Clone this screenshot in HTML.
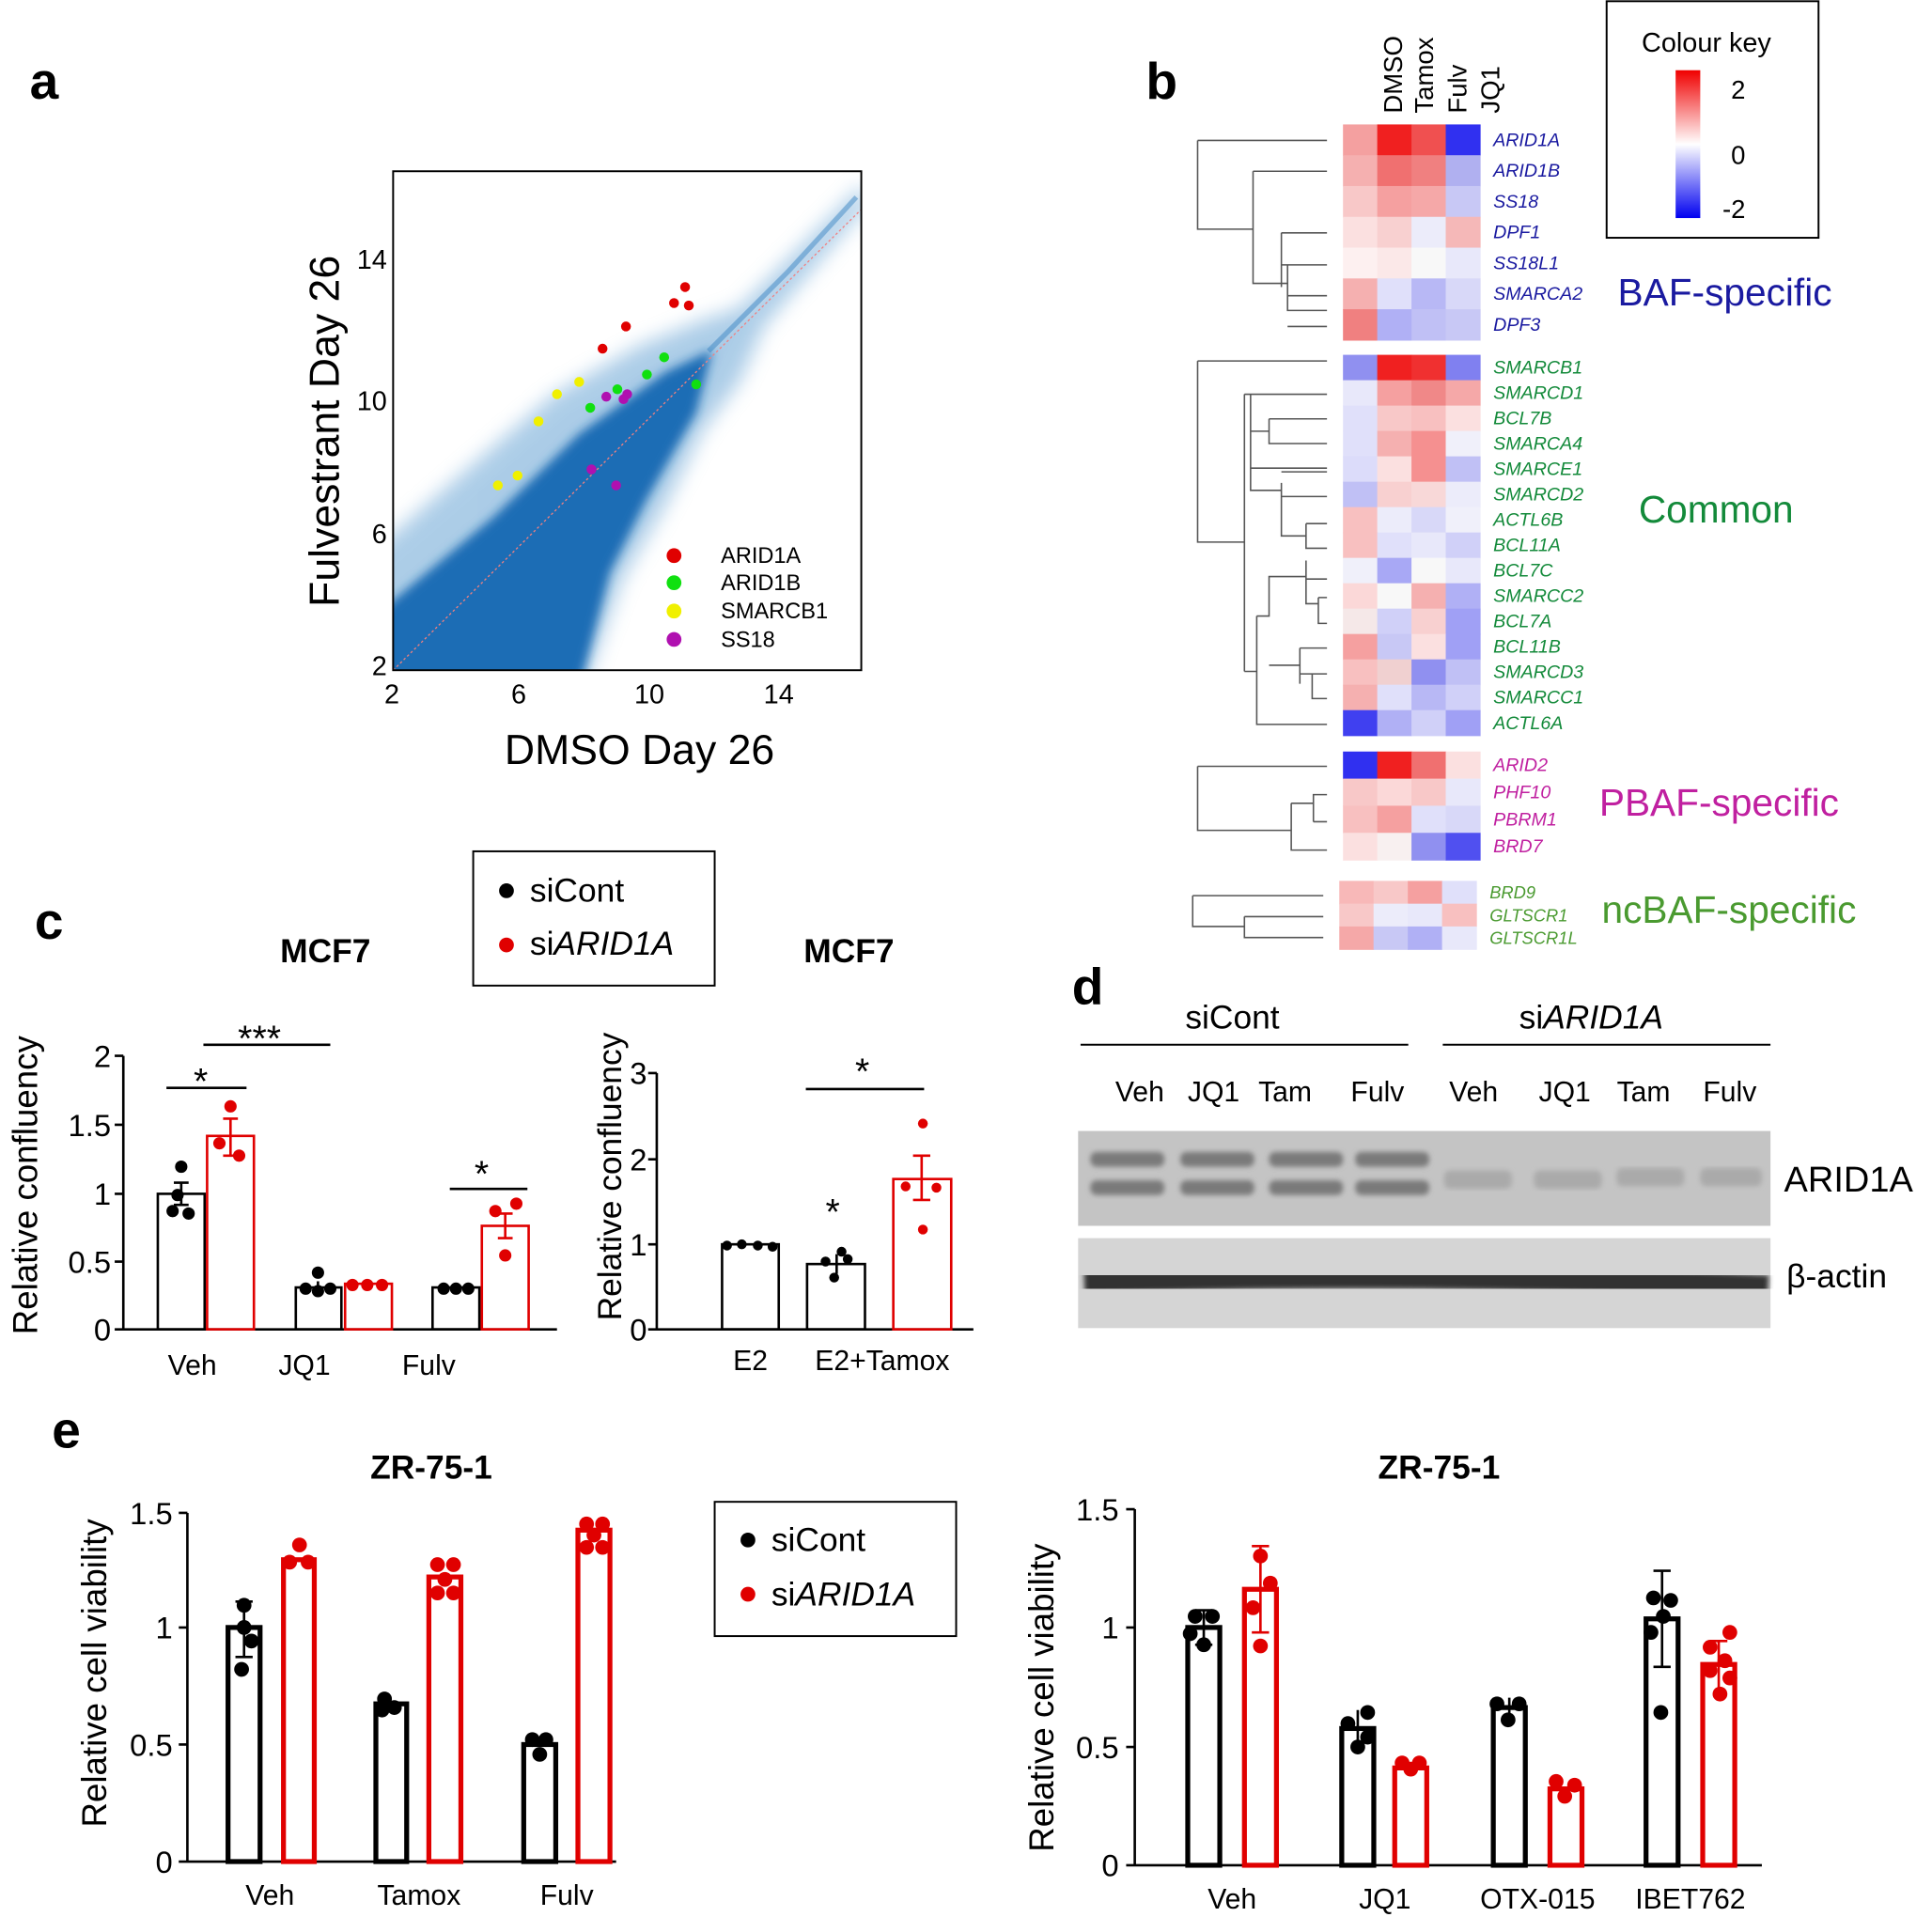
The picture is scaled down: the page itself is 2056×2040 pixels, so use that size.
<!DOCTYPE html>
<html><head><meta charset="utf-8"><style>
html,body{margin:0;padding:0;background:#fff}
svg{display:block}
text{font-family:"Liberation Sans",Arial,sans-serif}
</style></head><body>
<svg width="2056" height="2040" viewBox="0 0 1568 1556" xmlns="http://www.w3.org/2000/svg">
<defs>
<filter id="bl" x="-30%" y="-30%" width="160%" height="160%"><feGaussianBlur stdDeviation="8"/></filter>
<filter id="bl3" x="-30%" y="-30%" width="160%" height="160%"><feGaussianBlur stdDeviation="4"/></filter>
<filter id="bl2"><feGaussianBlur stdDeviation="2"/></filter>
<linearGradient id="ck" x1="0" y1="0" x2="0" y2="1"><stop offset="0" stop-color="#f00000"/><stop offset="0.5" stop-color="#ffffff"/><stop offset="1" stop-color="#0000f0"/></linearGradient>
<clipPath id="sc"><rect x="319" y="139" width="380" height="405"/></clipPath>
</defs>
<rect width="1568" height="1556" fill="#fff"/>
<g font-weight="bold" font-size="42">
<text x="24" y="80">a</text><text x="930" y="80">b</text><text x="28" y="762">c</text><text x="870" y="815">d</text><text x="42" y="1175">e</text></g>

<!-- PANEL A -->
<g clip-path="url(#sc)">
<path d="M300,450 L380,380 L450,320 L520,280 L570,260 L600,250 L700,150 L705,165 L620,265 L600,310 L570,350 L540,410 L505,470 L480,540 L470,570 L300,570Z" fill="#5a9bd0" opacity="0.5" filter="url(#bl)"/>
<path d="M310,495 L400,420 L470,352 L540,302 L578,284 L565,335 L525,405 L495,465 L470,560 L310,560Z" fill="#1a6db5" filter="url(#bl3)"/>
<path d="M575,285 L640,220 L695,160" stroke="#3c86c4" stroke-width="4" fill="none" opacity="0.5"/>
<line x1="319" y1="544" x2="699" y2="170" stroke="#f08080" stroke-width="1" stroke-dasharray="2,2"/>
</g>
<rect x="319" y="139" width="380" height="405" fill="none" stroke="#000" stroke-width="1.5"/>
<g fill="#e00000"><circle cx="556" cy="233" r="4"/><circle cx="547" cy="246" r="4"/><circle cx="559" cy="248" r="4"/><circle cx="508" cy="265" r="4"/><circle cx="489" cy="283" r="4"/></g>
<g fill="#10e010"><circle cx="539" cy="290" r="4"/><circle cx="525" cy="304" r="4"/><circle cx="565" cy="312" r="4"/><circle cx="501" cy="316" r="4"/><circle cx="479" cy="331" r="4"/></g>
<g fill="#f0f000"><circle cx="470" cy="310" r="4"/><circle cx="452" cy="320" r="4"/><circle cx="437" cy="342" r="4"/><circle cx="420" cy="386" r="4"/><circle cx="404" cy="394" r="4"/></g>
<g fill="#b010b0"><circle cx="509" cy="320" r="4"/><circle cx="492" cy="322" r="4"/><circle cx="506" cy="324" r="4"/><circle cx="480" cy="381" r="4"/><circle cx="500" cy="394" r="4"/></g>
<circle cx="547" cy="451" r="6" fill="#e00000"/><circle cx="547" cy="473" r="6" fill="#10e010"/><circle cx="547" cy="496" r="6" fill="#f0f000"/><circle cx="547" cy="519" r="6" fill="#b010b0"/>
<g font-size="18"><text x="585" y="457">ARID1A</text><text x="585" y="479">ARID1B</text><text x="585" y="502">SMARCB1</text><text x="585" y="525">SS18</text></g>
<g font-size="22" text-anchor="end"><text x="314" y="218">14</text><text x="314" y="333">10</text><text x="314" y="441">6</text><text x="314" y="548">2</text></g>
<g font-size="22" text-anchor="middle"><text x="318" y="571">2</text><text x="421" y="571">6</text><text x="527" y="571">10</text><text x="632" y="571">14</text></g>
<text x="519" y="620" font-size="34" text-anchor="middle">DMSO Day 26</text>
<text transform="translate(275,350) rotate(-90)" font-size="34" text-anchor="middle">Fulvestrant Day 26</text>

<!-- PANEL B heatmap -->
<g font-size="21"><text transform="translate(1138,92) rotate(-90)">DMSO</text><text transform="translate(1163,92) rotate(-90)">Tamox</text><text transform="translate(1190,92) rotate(-90)">Fulv</text><text transform="translate(1217,92) rotate(-90)">JQ1</text></g>
<rect x="1304" y="1" width="172" height="192" fill="none" stroke="#000" stroke-width="1.5"/>
<text x="1385" y="42" font-size="22" text-anchor="middle">Colour key</text>
<rect x="1360" y="57" width="20" height="120" fill="url(#ck)"/>
<g font-size="21"><text x="1405" y="80">2</text><text x="1405" y="133">0</text><text x="1398" y="177">-2</text></g>
<g id="hm"></g>
<g font-size="15" font-style="italic" id="lbl"></g>
<g font-size="31"><text x="1313" y="248" fill="#1a1aa0">BAF-specific</text><text x="1330" y="424" fill="#138a3a">Common</text><text x="1298" y="662" fill="#c020a0">PBAF-specific</text><text x="1300" y="749" fill="#4a9a30">ncBAF-specific</text></g>
<g stroke="#555" stroke-width="1.2" fill="none">
<path d="M972,114 H1077 M972,114 V186 H1017 M1017,139 V230 H1040 M1017,139 H1077 M1040,189 V233 M1040,189 H1077 M1040,215 H1045 V252 H1077 M1045,215 H1077 M1045,240 H1077 M1045,265 H1077 M1040,230 H1045"/>
<path d="M972,293 H1077 M972,293 V440 H1010 M1010,320 V545 M1010,320 H1015 V380 H1077 M1015,320 H1077 M1030,340 H1077 M1030,340 V360 H1077 M1030,350 H1015 M1015,380 V398 H1040 M1040,383 H1077 M1040,403 H1077 M1010,545 H1020 V588 H1077 M1020,500 V560 M1020,500 H1030 V468 H1060 M1030,540 H1055 M1055,526 V555 M1055,526 H1077 M1055,547 H1065 V567 H1077 M1065,547 H1077 M1060,455 V490 H1070 M1060,470 H1077 M1070,485 V506 H1077 M1070,485 H1077 M1060,425 V445 H1077 M1060,425 H1077 M1040,392 V435 H1060"/>
<path d="M972,622 H1077 M972,622 V674 H1048 M1048,652 V690 H1077 M1048,652 H1066 V645 H1077 M1066,667 H1077 M1066,645 V667"/>
<path d="M968,727 H1074 M968,727 V752 H1010 M1010,744 V761 H1074 M1010,744 H1074"/>
</g>

<!-- PANEL C left -->
<text x="264" y="781" font-size="27" font-weight="bold" text-anchor="middle">MCF7</text>
<text x="689" y="781" font-size="27" font-weight="bold" text-anchor="middle">MCF7</text>
<rect x="384" y="691" width="196" height="109" fill="none" stroke="#000" stroke-width="1.5"/>
<circle cx="411" cy="723" r="6"/><circle cx="411" cy="767" r="6" fill="#e00000"/>
<text x="430" y="732" font-size="27">siCont</text><text x="430" y="775" font-size="27">si<tspan font-style="italic">ARID1A</tspan></text>
<g stroke="#000" stroke-width="2" fill="none">
<path d="M100,857 V1079 H452 M93,857 H100 M93,913 H100 M93,969 H100 M93,1024 H100 M93,1079 H100"/>
<rect x="128" y="969" width="38" height="110"/><rect x="240" y="1045" width="37" height="34"/><rect x="351" y="1045" width="38" height="34"/>
<path d="M135,883 H200 M165,848 H268 M365,965 H428"/>
<path d="M147,960 V978 M141,960 H153 M141,978 H153 M258,1040 V1050 M370,1042 V1048"/>
</g>
<g stroke="#e00000" stroke-width="2" fill="none"><rect x="168" y="922" width="38" height="157"/><rect x="280" y="1042" width="38" height="37"/><rect x="391" y="995" width="38" height="84"/>
<path d="M187,908 V938 M181,908 H193 M181,938 H193 M410,985 V1005 M404,985 H416 M404,1005 H416"/></g>
<g><circle cx="147" cy="947" r="5"/><circle cx="140" cy="983" r="5"/><circle cx="153" cy="985" r="5"/><circle cx="144" cy="970" r="5"/>
<circle cx="258" cy="1033" r="5"/><circle cx="248" cy="1046" r="5"/><circle cx="268" cy="1046" r="5"/><circle cx="258" cy="1048" r="5"/>
<circle cx="360" cy="1046" r="5"/><circle cx="370" cy="1046" r="5"/><circle cx="380" cy="1046" r="5"/></g>
<g fill="#e00000"><circle cx="187" cy="898" r="5"/><circle cx="178" cy="928" r="5"/><circle cx="194" cy="938" r="5"/>
<circle cx="286" cy="1043" r="5"/><circle cx="298" cy="1043" r="5"/><circle cx="310" cy="1043" r="5"/>
<circle cx="419" cy="977" r="5"/><circle cx="402" cy="983" r="5"/><circle cx="410" cy="1019" r="5"/></g>
<g font-size="30"><text x="157" y="888">*</text><text x="193" y="853">***</text><text x="385" y="963">*</text><text x="694" y="880">*</text><text x="670" y="994">*</text></g>
<g font-size="25" text-anchor="end"><text x="90" y="1088">0</text><text x="90" y="1033">0.5</text><text x="90" y="978">1</text><text x="90" y="922">1.5</text><text x="90" y="866">2</text></g>
<g font-size="23" text-anchor="middle"><text x="156" y="1116">Veh</text><text x="247" y="1116">JQ1</text><text x="348" y="1116">Fulv</text></g>
<text transform="translate(30,962) rotate(-90)" font-size="28" text-anchor="middle">Relative confluency</text>

<!-- PANEL C right -->
<g stroke="#000" stroke-width="2" fill="none">
<path d="M533,871 V1079 H790 M526,871 H533 M526,941 H533 M526,1010 H533 M526,1079 H533"/>
<rect x="586" y="1010" width="46" height="69"/><rect x="655" y="1026" width="47" height="53"/>
<path d="M654,884 H750 M679,1018 V1034"/></g>
<g stroke="#e00000" stroke-width="2" fill="none"><rect x="725" y="957" width="47" height="122"/><path d="M748,938 V974 M741,938 H755 M741,974 H755"/></g>
<g><circle cx="590" cy="1011" r="4"/><circle cx="602" cy="1010" r="4"/><circle cx="615" cy="1011" r="4"/><circle cx="627" cy="1012" r="4"/>
<circle cx="670" cy="1024" r="4"/><circle cx="683" cy="1016" r="4"/><circle cx="677" cy="1037" r="4"/><circle cx="688" cy="1022" r="4"/></g>
<g fill="#e00000"><circle cx="749" cy="912" r="4"/><circle cx="735" cy="963" r="4"/><circle cx="760" cy="964" r="4"/><circle cx="749" cy="998" r="4"/></g>
<g font-size="25" text-anchor="end"><text x="525" y="1088">0</text><text x="525" y="1019">1</text><text x="525" y="950">2</text><text x="525" y="880">3</text></g>
<g font-size="23" text-anchor="middle"><text x="609" y="1112">E2</text><text x="716" y="1112">E2+Tamox</text></g>
<text transform="translate(504,955) rotate(-90)" font-size="27" text-anchor="middle">Relative confluency</text>

<!-- PANEL D -->
<g font-size="27"><text x="962" y="835">siCont</text><text x="1233" y="835">si<tspan font-style="italic">ARID1A</tspan></text></g>
<g stroke="#000" stroke-width="1.5"><line x1="877" y1="848" x2="1143" y2="848"/><line x1="1171" y1="848" x2="1437" y2="848"/></g>
<g font-size="23" text-anchor="middle"><text x="925" y="894">Veh</text><text x="985" y="894">JQ1</text><text x="1043" y="894">Tam</text><text x="1118" y="894">Fulv</text><text x="1196" y="894">Veh</text><text x="1270" y="894">JQ1</text><text x="1334" y="894">Tam</text><text x="1404" y="894">Fulv</text></g>
<rect x="875" y="918" width="562" height="77" fill="#c4c4c4"/>
<g fill="#7a7a7a" filter="url(#bl2)"><rect x="885" y="935" width="60" height="12" rx="5"/><rect x="885" y="958" width="60" height="12" rx="5"/><rect x="958" y="935" width="60" height="12" rx="5"/><rect x="958" y="958" width="60" height="12" rx="5"/><rect x="1030" y="935" width="60" height="12" rx="5"/><rect x="1030" y="958" width="60" height="12" rx="5"/><rect x="1100" y="935" width="60" height="12" rx="5"/><rect x="1100" y="958" width="60" height="12" rx="5"/></g>
<g fill="#aaa" filter="url(#bl2)"><rect x="1172" y="950" width="55" height="15" rx="5"/><rect x="1245" y="950" width="55" height="15" rx="5"/><rect x="1312" y="948" width="55" height="15" rx="5"/><rect x="1380" y="948" width="50" height="15" rx="5"/></g>
<rect x="875" y="1005" width="562" height="73" fill="#d5d5d5"/>
<path d="M880,1040 Q1150,1030 1435,1045" stroke="#333" stroke-width="20" fill="none" filter="url(#bl2)"/>
<text x="1448" y="967" font-size="29">ARID1A</text><text x="1450" y="1045" font-size="27">β-actin</text>

<!-- PANEL E left -->
<text x="350" y="1200" font-size="27" font-weight="bold" text-anchor="middle">ZR-75-1</text>
<text x="1168" y="1200" font-size="27" font-weight="bold" text-anchor="middle">ZR-75-1</text>
<rect x="580" y="1219" width="196" height="109" fill="none" stroke="#000" stroke-width="1.5"/>
<circle cx="607" cy="1250" r="6"/><circle cx="607" cy="1294" r="6" fill="#e00000"/>
<text x="626" y="1259" font-size="27">siCont</text><text x="626" y="1303" font-size="27">si<tspan font-style="italic">ARID1A</tspan></text>
<g stroke="#000" stroke-width="4" fill="none">
<path d="M152,1228 V1511 H500 M145,1228 H152 M145,1321 H152 M145,1416 H152 M145,1511 H152" stroke-width="2"/>
<rect x="185" y="1321" width="26" height="190"/><rect x="305" y="1383" width="25" height="128"/><rect x="425" y="1416" width="26" height="95"/>
<path d="M198,1300 V1345 M191,1300 H205 M191,1345 H205" stroke-width="2"/></g>
<g stroke="#e00000" stroke-width="4" fill="none"><rect x="230" y="1266" width="25" height="245"/><rect x="348" y="1280" width="26" height="231"/><rect x="469" y="1242" width="26" height="269"/></g>
<g><circle cx="198" cy="1303" r="6"/><circle cx="204" cy="1332" r="6"/><circle cx="196" cy="1355" r="6"/><circle cx="198" cy="1321" r="6"/>
<circle cx="312" cy="1379" r="6"/><circle cx="320" cy="1386" r="6"/><circle cx="310" cy="1388" r="6"/>
<circle cx="432" cy="1412" r="6"/><circle cx="443" cy="1412" r="6"/><circle cx="438" cy="1424" r="6"/></g>
<g fill="#e00000"><circle cx="243" cy="1254" r="6"/><circle cx="235" cy="1268" r="6"/><circle cx="250" cy="1268" r="6"/>
<circle cx="355" cy="1270" r="6"/><circle cx="368" cy="1270" r="6"/><circle cx="355" cy="1293" r="6"/><circle cx="368" cy="1293" r="6"/><circle cx="361" cy="1282" r="6"/>
<circle cx="476" cy="1237" r="6"/><circle cx="489" cy="1237" r="6"/><circle cx="476" cy="1256" r="6"/><circle cx="489" cy="1256" r="6"/><circle cx="482" cy="1246" r="6"/></g>
<g font-size="25" text-anchor="end"><text x="140" y="1520">0</text><text x="140" y="1425">0.5</text><text x="140" y="1330">1</text><text x="140" y="1237">1.5</text></g>
<g font-size="23" text-anchor="middle"><text x="219" y="1546">Veh</text><text x="340" y="1546">Tamox</text><text x="460" y="1546">Fulv</text></g>
<text transform="translate(86,1358) rotate(-90)" font-size="28" text-anchor="middle">Relative cell viability</text>

<!-- PANEL E right -->
<g stroke="#000" stroke-width="4" fill="none">
<path d="M921,1225 V1514 H1430 M914,1225 H921 M914,1321 H921 M914,1418 H921 M914,1514 H921" stroke-width="2"/>
<rect x="964" y="1321" width="26" height="193"/><rect x="1089" y="1403" width="26" height="111"/><rect x="1212" y="1386" width="26" height="128"/><rect x="1336" y="1314" width="26" height="200"/>
<path d="M977,1307 V1335 M970,1307 H984 M970,1335 H984 M1102,1388 V1420 M1225,1378 V1395 M1349,1275 V1353 M1342,1275 H1356 M1342,1353 H1356" stroke-width="2"/></g>
<g stroke="#e00000" stroke-width="4" fill="none"><rect x="1010" y="1290" width="26" height="224"/><rect x="1132" y="1435" width="26" height="79"/><rect x="1258" y="1452" width="26" height="62"/><rect x="1382" y="1351" width="26" height="163"/>
<path d="M1023,1255 V1325 M1016,1255 H1030 M1016,1325 H1030 M1395,1332 V1372 M1388,1332 H1402" stroke-width="2"/></g>
<g><circle cx="970" cy="1312" r="6"/><circle cx="984" cy="1312" r="6"/><circle cx="977" cy="1335" r="6"/><circle cx="966" cy="1326" r="6"/>
<circle cx="1110" cy="1390" r="6"/><circle cx="1094" cy="1399" r="6"/><circle cx="1102" cy="1418" r="6"/><circle cx="1110" cy="1410" r="6"/>
<circle cx="1215" cy="1383" r="6"/><circle cx="1233" cy="1383" r="6"/><circle cx="1224" cy="1396" r="6"/>
<circle cx="1342" cy="1297" r="6"/><circle cx="1356" cy="1299" r="6"/><circle cx="1350" cy="1312" r="6"/><circle cx="1340" cy="1325" r="6"/><circle cx="1348" cy="1390" r="6"/></g>
<g fill="#e00000"><circle cx="1023" cy="1263" r="6"/><circle cx="1031" cy="1285" r="6"/><circle cx="1017" cy="1305" r="6"/><circle cx="1023" cy="1336" r="6"/>
<circle cx="1138" cy="1431" r="6"/><circle cx="1152" cy="1431" r="6"/><circle cx="1145" cy="1436" r="6"/>
<circle cx="1263" cy="1446" r="6"/><circle cx="1278" cy="1449" r="6"/><circle cx="1270" cy="1458" r="6"/>
<circle cx="1404" cy="1325" r="6"/><circle cx="1388" cy="1337" r="6"/><circle cx="1400" cy="1348" r="6"/><circle cx="1388" cy="1356" r="6"/><circle cx="1396" cy="1375" r="6"/><circle cx="1404" cy="1362" r="6"/></g>
<g font-size="25" text-anchor="end"><text x="908" y="1523">0</text><text x="908" y="1427">0.5</text><text x="908" y="1330">1</text><text x="908" y="1234">1.5</text></g>
<g font-size="23" text-anchor="middle"><text x="1000" y="1549">Veh</text><text x="1124" y="1549">JQ1</text><text x="1248" y="1549">OTX-015</text><text x="1372" y="1549">IBET762</text></g>
<text transform="translate(855,1378) rotate(-90)" font-size="28" text-anchor="middle">Relative cell viability</text>

<script>
var G=[
[101,25,"#1a1aa0",1090,[["ARID1A","#f4a0a0","#f02020","#f05050","#3030f0"],["ARID1B","#f5b0b0","#f07070","#f08080","#b0b0f0"],["SS18","#f8c8c8","#f5a0a0","#f5a8a8","#c8c8f5"],["DPF1","#fbe0e0","#f8d0d0","#ececfa","#f5b8b8"],["SS18L1","#fdf0f0","#fbe8e8","#f8f8f8","#e8e8fa"],["SMARCA2","#f5b0b0","#e0e0fa","#b8b8f5","#d8d8f8"],["DPF3","#f08080","#b0b0f5","#c0c0f5","#c8c8f5"]]],
[288,20.6,"#138a3a",1090,[["SMARCB1","#9090f0","#f02020","#f03030","#8080f0"],["SMARCD1","#e8e8fa","#f5a0a0","#f08888","#f5a8a8"],["BCL7B","#e0e0fa","#f8c8c8","#f8c0c0","#fbe0e0"],["SMARCA4","#e0e0fa","#f5b0b0","#f59090","#f0f0fa"],["SMARCE1","#dcdcfa","#fbe0e0","#f59090","#c0c0f5"],["SMARCD2","#c0c0f5","#f8d0d0","#f8d8d8","#ececfa"],["ACTL6B","#f8c0c0","#ececfa","#d8d8f8","#f0f0fa"],["BCL11A","#f8c0c0","#e0e0fa","#e8e8fa","#d0d0f8"],["BCL7C","#f0f0fa","#a8a8f5","#f8f8f8","#e8e8fa"],["SMARCC2","#fbd8d8","#f8f8f8","#f5b0b0","#b0b0f5"],["BCL7A","#f5e8e8","#d0d0f8","#f8d0d0","#a0a0f5"],["BCL11B","#f5a0a0","#c8c8f5","#fbe0e0","#a0a0f5"],["SMARCD3","#f8c0c0","#f0d0d0","#9090f0","#c0c0f5"],["SMARCC1","#f5b0b0","#e0e0fa","#b8b8f5","#d0d0f8"],["ACTL6A","#4040f0","#b0b0f5","#d0d0f8","#a0a0f5"]]],
[610,22,"#c020a0",1090,[["ARID2","#3030f0","#f02020","#f07070","#fbe0e0"],["PHF10","#f8c8c8","#fbd8d8","#f8c8c8","#e8e8fa"],["PBRM1","#f8c0c0","#f5a0a0","#e0e0fa","#d8d8f8"],["BRD7","#fbe0e0","#f8f0f0","#9090f0","#5050f0"]]],
[715,18.5,"#4a9a30",1087,[["BRD9","#f8b8b8","#f8c8c8","#f5a0a0","#e0e0fa"],["GLTSCR1","#f8c8c8","#ececfa","#e8e8fa","#f8c0c0"],["GLTSCR1L","#f5a8a8","#c8c8f5","#b0b0f5","#e8e8fa"]]]];
var ns="http://www.w3.org/2000/svg",hm=document.getElementById("hm"),lb=document.getElementById("lbl");
G.forEach(function(g){g[4].forEach(function(r,i){for(var c=0;c<4;c++){var e=document.createElementNS(ns,"rect");e.setAttribute("x",g[3]+c*27.8);e.setAttribute("y",g[0]+i*g[1]);e.setAttribute("width",28.3);e.setAttribute("height",g[1]+0.5);e.setAttribute("fill",r[c+1]);hm.appendChild(e);}
var t=document.createElementNS(ns,"text");t.setAttribute("x",g[3]+122);t.setAttribute("y",g[0]+i*g[1]+g[1]/2+5);t.setAttribute("fill",g[2]);if(g[1]<20)t.setAttribute("font-size","14");t.textContent=r[0];lb.appendChild(t);});});
</script>
</svg>
</body></html>
